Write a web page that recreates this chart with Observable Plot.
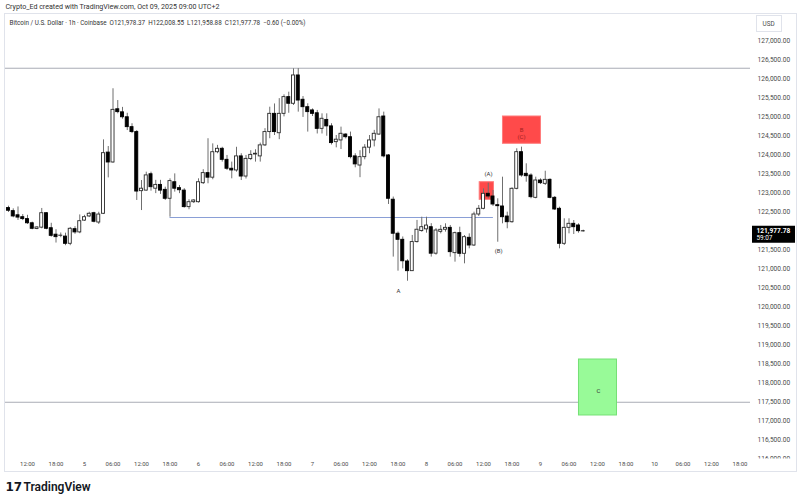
<!DOCTYPE html>
<html><head><meta charset="utf-8">
<script src="https://cdn.jsdelivr.net/npm/d3@7"></script>
<script src="https://cdn.jsdelivr.net/npm/@observablehq/plot@0.6"></script>
<style>body{margin:0;background:#fff;font-family:Roboto,sans-serif}</style>
</head><body><div id="chart"></div>
<script>
// BTC/USD 1h Coinbase, first candle Oct 04 08:00 (UTC+2 shown as chart local time)
const firstCandle = "2025-10-04T08:00Z";
const opens = [122590,122510,122400,122350,122300,122190,122040,122075,122455,122060,
121890,121860,121840,121650,122035,121950,122260,122370,122455,122210,
122440,124050,123790,125190,125110,124980,124720,124590,123035,123050,
123480,123100,123200,123070,122835,123270,123115,123050,122615,122745,
122745,123245,123510,123390,124060,124150,123860,123625,123580,123950,
123420,123880,124000,123950,124240,124590,125070,124560,125070,125510,
125335,126080,125440,125245,125160,125085,124675,124910,124740,124325,
124370,124525,124455,123950,123710,123930,124180,124370,124525,125000,
123975,122810,121915,121755,121185,120930,121695,121985,122030,122087,
121390,121965,122020,122070,121404,121930,121387,121808,121605,122421,
122571,122966,122895,122666,122632,122368,122218,123097,124061,123492,
123447,122860,123316,123228,123333,122860,122571,121650,122070,122176,
122132,121978.37];
const highs = [122640,122570,122620,122420,122400,122220,122100,122580,122470,122190,
122020,121935,121930,122080,122100,122410,122400,122480,122480,122480,
124385,124210,125730,125420,125240,125085,124810,124630,123315,123535,
123535,123320,123320,123140,123360,123490,123185,123100,122810,122810,
123360,123600,124415,124280,124240,124190,123975,123800,124190,124020,
123975,124100,124125,124300,124680,125245,125330,125470,125570,125640,
126255,126260,125525,125335,125200,125160,125070,125070,124810,124500,
124720,124545,124590,124020,124100,124260,124500,124635,125200,125115,
124000,122880,121960,121830,121230,121870,122265,122350,122350,122180,
122050,122132,122176,122132,121957,122087,121868,121912,122482,122658,
123097,123245,123053,122834,123403,122482,123123,124150,124193,123755,
123492,123403,123360,123560,123360,122895,122614,122308,122308,122263,
122176,122008.55];
const lows = [122475,122335,122265,122260,122160,122020,122020,122045,122020,121825,
121670,121810,121600,121600,121900,121915,122240,122340,122200,122160,
122420,123385,123770,125070,124930,124630,124550,122790,122525,123035,
123035,122970,122950,122790,122350,123010,122970,122590,122545,122710,
122720,123210,123230,123335,124020,123800,123580,123360,123535,123315,
123355,123840,123800,123800,124210,124415,124500,124390,124990,125085,
125290,125115,124975,124590,125000,124540,124540,124480,124250,124175,
124130,124410,123885,123650,123390,123860,124020,124200,124500,123910,
122685,121300,120930,120990,120665,120930,121670,121955,121930,121300,
121350,121912,121957,121298,121167,121298,121123,121518,121579,122368,
122545,122834,122632,121692,122176,122045,122192,123070,123403,123271,
122834,122834,123210,123184,122834,122526,121518,121605,121912,121895,
121930,121958.88];
const closes = [122520,122370,122340,122300,122190,122045,122080,122455,122045,121860,
121825,121865,121650,122045,121950,122245,122350,122440,122230,122420,
124035,123790,125175,125115,124980,124720,124590,123025,123100,123450,
123140,123200,123050,122835,123300,123100,123060,122615,122745,122790,
123270,123510,123390,124060,124150,123860,123625,123580,123950,123420,
123885,123990,124020,124240,124590,125070,124590,125070,125510,125335,
126080,125420,125245,125115,125070,124675,124940,124740,124300,124390,
124545,124455,123930,123740,123930,124180,124370,124545,124980,123950,
122835,121915,121755,121190,120930,121695,122020,122087,122130,121390,
122000,122018,122070,121430,121930,121387,121824,121605,122421,122571,
122966,122895,122684,122640,122350,122218,123097,124061,123447,123429,
122877,123316,123245,123333,122860,122553,121650,122070,122176,122087,
121982,121977.78];

// drawn levels and zones
const levels = [126270, 117480];
const supportLevel = 122342;
const supportFrom = "2025-10-05T18:00Z";
const supportTo = "2025-10-08T14:05Z";
const zoneStart = ["2025-10-08T11:12Z", "2025-10-08T16:06Z", "2025-10-09T08:06Z"];
const zoneEnd   = ["2025-10-08T14:12Z", "2025-10-09T00:06Z", "2025-10-09T16:06Z"];
const zoneLow   = [122808, 124282, 117132];
const zoneHigh  = [123271, 125000, 118605];
const zoneFill  = ["#ff4a4a", "#ff4a4a", "#98fa98"];
const zoneStroke= ["#ff7b7b", "#ff7b7b", "#74e074"];
const noteText = ["(A)", "(B)", "B", "(C)", "A", "C"];
const noteTime = ["2025-10-08T13:03Z","2025-10-08T15:12Z","2025-10-08T20:00Z","2025-10-08T20:00Z","2025-10-07T18:06Z","2025-10-09T12:12Z"];
const notePrice = [123474, 121447, 124632, 124460, 120395, 117763];
const noteColor = ["#333","#333","#a32020","#a32020","#333","#333"];

const yTicks = [127000,126500,126000,125500,125000,124500,124000,123500,123000,122500,
121500,121000,120500,120000,119500,119000,118500,118000,117500,117000,116500,116000];
const xTicks = ["2025-10-04T12:00Z","2025-10-04T18:00Z","2025-10-05T00:00Z","2025-10-05T06:00Z",
"2025-10-05T12:00Z","2025-10-05T18:00Z","2025-10-06T00:00Z","2025-10-06T06:00Z","2025-10-06T12:00Z",
"2025-10-06T18:00Z","2025-10-07T00:00Z","2025-10-07T06:00Z","2025-10-07T12:00Z","2025-10-07T18:00Z",
"2025-10-08T00:00Z","2025-10-08T06:00Z","2025-10-08T12:00Z","2025-10-08T18:00Z","2025-10-09T00:00Z",
"2025-10-09T06:00Z","2025-10-09T12:00Z","2025-10-09T18:00Z","2025-10-10T00:00Z","2025-10-10T06:00Z",
"2025-10-10T12:00Z","2025-10-10T18:00Z"];
const xLabels = ["12:00","18:00","5","06:00","12:00","18:00","6","06:00","12:00","18:00","7","06:00",
"12:00","18:00","8","06:00","12:00","18:00","9","06:00","12:00","18:00","10","06:00","12:00","18:00"];

const header1 = "Crypto_Ed created with TradingView.com, Oct 09, 2025 09:00 UTC+2";
const header2 = "Bitcoin / U.S. Dollar · 1h · Coinbase  O121,978.37  H122,008.55  L121,958.88  C121,977.78  −0.60 (−0.00%)";
const lastPrice = 121977.78;
const countdown = "59:07";

const H = 3600e3;
const t0 = +new Date(firstCandle);
const candles = opens.map((o, i) => ({t: new Date(t0 + i * H), o, h: highs[i], l: lows[i], c: closes[i]}));
const zones = zoneStart.map((s, i) => ({x1: new Date(s), x2: new Date(zoneEnd[i]), y1: zoneLow[i], y2: zoneHigh[i], fill: zoneFill[i], stroke: zoneStroke[i]}));
const notes = noteText.map((t, i) => ({text: t, x: new Date(noteTime[i]), y: notePrice[i], color: noteColor[i]}));
const fmt = d3.format(",.2f");
const font = "Roboto, 'Liberation Sans', sans-serif";

const chart = Plot.plot({
  width: 800, height: 503,
  marginTop: 0, marginRight: 0, marginBottom: 0, marginLeft: 0,
  style: {fontFamily: font, background: "#fff"},
  x: {type: "utc", domain: [new Date("2025-10-04T00:00Z"), new Date("2025-10-11T00:00Z")], range: [-30, 768], axis: null},
  y: {domain: [127000, 116000], range: [40, 458], axis: null},
  marks: [
    Plot.frame({stroke: "#e0e3eb", insetLeft: 4, insetRight: 4, insetTop: 13, insetBottom: 32}),
    Plot.ruleY(levels, {stroke: "#a9acb5", strokeWidth: 1, insetLeft: 5, insetRight: 50}),
    Plot.ruleY([supportLevel], {x1: new Date(supportFrom), x2: new Date(supportTo), stroke: "#8a9fd6", strokeWidth: 1}),
    Plot.rect(zones, {x1: "x1", x2: "x2", y1: "y1", y2: "y2", fill: "fill", stroke: "stroke", strokeWidth: 1}),
    Plot.ruleX(candles, {x: "t", y1: "l", y2: "h", stroke: "#6f6f6f", strokeWidth: 1}),
    Plot.rect(candles, {
      x1: d => new Date(+d.t - 0.32 * H), x2: d => new Date(+d.t + 0.32 * H),
      y1: "o", y2: "c",
      fill: d => d.c >= d.o ? "#ffffff" : "#000000",
      stroke: d => d.c >= d.o ? "#2a2a2a" : "#000000", strokeWidth: 0.9
    }),
    Plot.text(notes, {x: "x", y: "y", text: "text", fill: "color", fontSize: 6, fontFamily: font}),
    // price axis labels
    Plot.text(yTicks, {y: d => d, text: d => fmt(d), frameAnchor: "right", dx: -43, textAnchor: "start", lineAnchor: "middle", fontSize: 6.6, fill: "#4a4a4a", fontFamily: font}),
    // white time-axis band
    Plot.frame({fill: "#fff", stroke: null, insetLeft: 5, insetRight: 5, insetTop: 458, insetBottom: 33}),
    Plot.text(xTicks, {x: d => new Date(d), text: (d, i) => xLabels[i], frameAnchor: "bottom", dy: -39, lineAnchor: "middle", fontSize: 6, fill: "#4a4a4a", fontFamily: font}),
    // last price label
    Plot.ruleY([lastPrice], {stroke: "#000", strokeWidth: 17, dy: 3, insetLeft: 752, insetRight: 5}),
    Plot.text([lastPrice], {y: d => d, text: d => fmt(d), frameAnchor: "right", dx: -44, textAnchor: "start", lineAnchor: "middle", fontSize: 6.6, fontWeight: "bold", fill: "#fff", fontFamily: font}),
    Plot.text([countdown], {y: () => lastPrice, text: d => d, frameAnchor: "right", dx: -44, dy: 7, textAnchor: "start", lineAnchor: "middle", fontSize: 6.4, fill: "#fff", fontFamily: font}),
    // USD box
    Plot.frame({stroke: "#e0e3eb", insetLeft: 756, insetRight: 19, insetTop: 15, insetBottom: 472}),
    Plot.text(["USD"], {text: d => d, frameAnchor: "top-left", dx: 762, dy: 23, textAnchor: "start", lineAnchor: "middle", fontSize: 6.4, fill: "#4a4a4a", fontFamily: font}),
    // headers
    Plot.text([header1], {text: d => d, frameAnchor: "top-left", dx: 5, dy: 6, textAnchor: "start", lineAnchor: "middle", fontSize: 7.1, fill: "#333", fontFamily: font}),
    Plot.text([header2], {text: d => d, frameAnchor: "top-left", dx: 9, dy: 22, textAnchor: "start", lineAnchor: "middle", fontSize: 6.3, fill: "#333", fontFamily: font}),
    // TradingView logo
    Plot.text(["17"], {text: d => d, frameAnchor: "top-left", dx: 5, dy: 487, textAnchor: "start", lineAnchor: "middle", fontSize: 12, fontWeight: 900, fill: "#131722", fontFamily: "'DejaVu Sans', sans-serif", letterSpacing: "-1.2px"}),
    Plot.text(["TradingView"], {text: d => d, frameAnchor: "top-left", dx: 23, dy: 487, textAnchor: "start", lineAnchor: "middle", fontSize: 12, fontWeight: 600, fill: "#131722", fontFamily: font})
  ]
});
document.getElementById("chart").append(chart);
</script>
</body></html>
